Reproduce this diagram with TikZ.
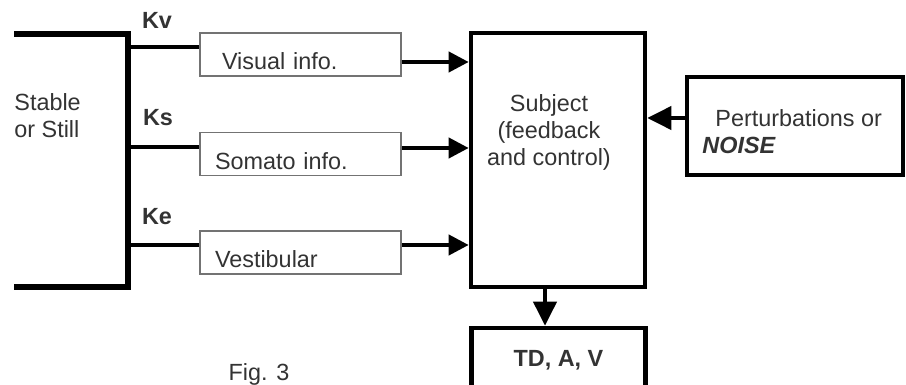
\documentclass[tikz,border=0pt]{standalone}
\usepackage{fontspec}
\setmainfont{Liberation Sans}
\usetikzlibrary{arrows.meta}
\tikzset{
  inbox/.style={rectangle,draw=black!55,line width=0.8pt,text width=85.5pt,
    inner xsep=7.5pt,inner ysep=0pt,text height=18.5pt,text depth=3pt,align=left},
  bigbox/.style={rectangle,draw=black,line width=2.3pt,inner sep=0pt},
  klabel/.style={font=\fontsize{11.7}{14}\selectfont\bfseries},
  arr/.style={line width=2pt,-{Triangle[length=10pt,width=10pt]}},
  bigarr/.style={line width=2pt,-{Triangle[length=12pt,width=11.5pt]}},
}
\begin{document}
\begin{tikzpicture}
  [x=0.5pt,y=-0.5pt,every node/.style={text=black!80,font=\fontsize{11.7}{13.5}\selectfont}]
  \useasboundingbox (0,0) rectangle (906,385);
  \clip (0,0) rectangle (906,385);
  % input side
  \coordinate (a) at (14,34);
  \coordinate (b) at (128,34);
  \coordinate (c) at (128,287);
  \coordinate (d) at (14,287);
  \node[align=left,anchor=west,inner xsep=0pt] (still) at (14,116) {Stable\\or Still};
  \node[inbox] (vis) at (300.5,54.5) {\hspace*{3.5pt}Visual info.};
  \node[inbox] (som) at (300.5,154) {Somato info.};
  \node[inbox] (ves) at (300.5,252.5) {Vestibular};
  \node[klabel] (kv) at (157,20) {Kv};
  \node[klabel] (ks) at (158,118) {Ks};
  \node[klabel] (ke) at (157,217) {Ke};
  % subject and the rest
  \node[bigbox,minimum width=87pt,minimum height=127pt] (subj) at (558,160) {};
  \node[align=center] (subjtxt) at (549,132) {Subject\\(feedback\\and control)};
  \node[bigbox,minimum width=108pt,minimum height=49pt] (noise) at (795,126) {};
  \node[align=left,anchor=west,inner xsep=0pt] (noisetxt) at (702,131.5)
    {\hspace*{6.5pt}Perturbations or\\\textbf{\textit{NOISE}}};
  \node[bigbox,minimum width=87pt,minimum height=32pt,font=\fontsize{11.7}{14}\selectfont\bfseries]
    (out) at (558.5,360) {\raisebox{1.5pt}{TD, A, V}};
  \node (fig) at (259,374) {Fig. 3};
  \draw[line width=2.8pt,line join=miter] (a) -- (b) -- (c) -- (d);
  \foreach \n in {vis,som,ves}
    \draw[line width=2pt] ([yshift=3.5pt]\n.west -| b) -- ([yshift=3.5pt]\n.west);
  \foreach \n/\dy in {vis/-3.75pt,som/3pt,ves/3.75pt}
    \draw[arr] ([yshift=\dy]\n.east) -- ([yshift=\dy]\n.east -| subj.west);
  \draw[bigarr] ([yshift=4pt]noise.west) -- ([yshift=4pt]noise.west -| subj.east);
  \draw[bigarr] ([xshift=-6.5pt]subj.south) -- ([xshift=-6.5pt]subj.south |- out.north);
\end{tikzpicture}
\end{document}
